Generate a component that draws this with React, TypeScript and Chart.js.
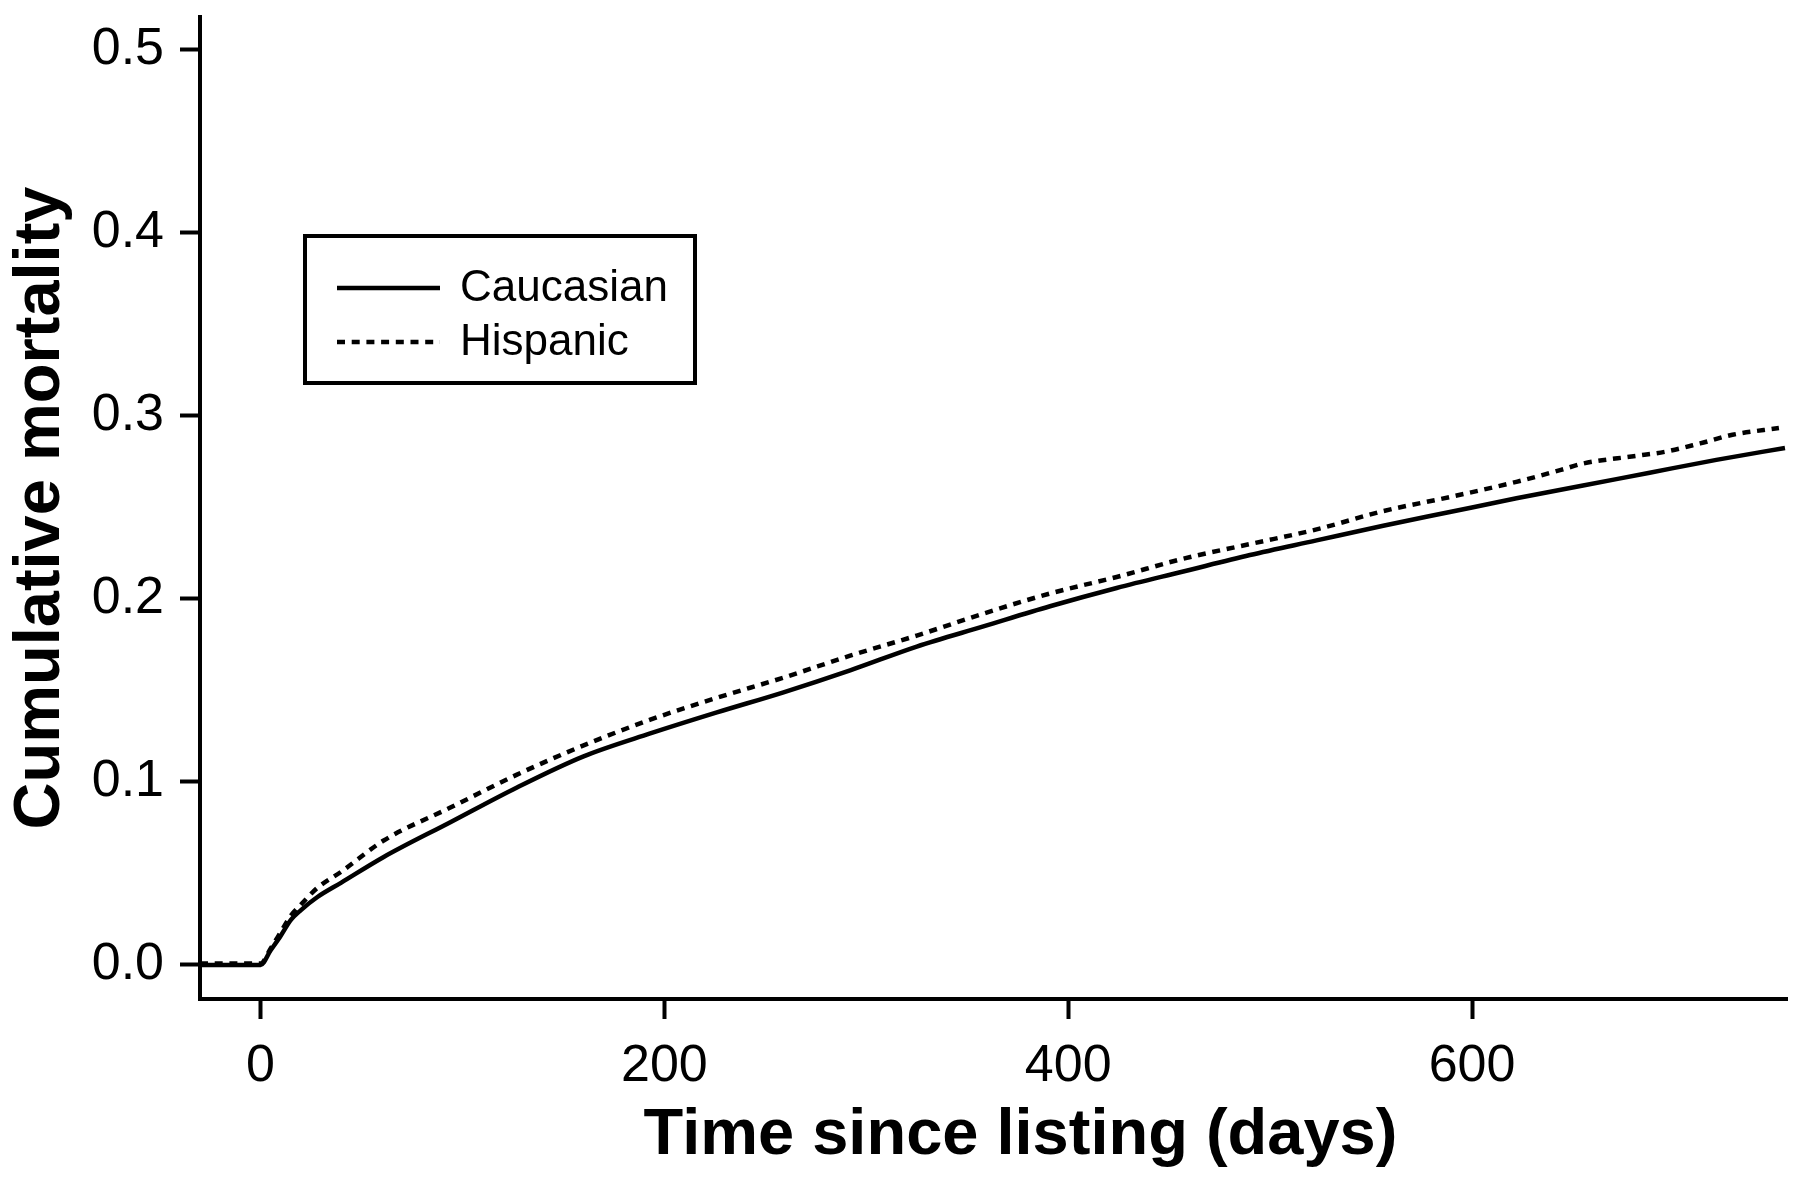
import React, { useEffect, useRef } from "react";
import { Chart, registerables } from "chart.js";

Chart.register(...registerables);

// ---- data ----
const caucasianDays = [-30, 0, 5, 10, 15, 20, 28, 40, 61, 94, 127, 160, 193, 226, 259, 292, 325, 358, 391, 424, 457, 490, 523, 556, 589, 622, 655, 688, 721, 755];
const caucasianMortality = [0, 0, 0.008, 0.016, 0.0246, 0.03, 0.037, 0.045, 0.059, 0.078, 0.097, 0.114, 0.1265, 0.138, 0.149, 0.161, 0.174, 0.185, 0.196, 0.206, 0.215, 0.224, 0.232, 0.24, 0.2475, 0.255, 0.262, 0.269, 0.276, 0.2825];

const hispanicDays = [-30, 0, 5, 10, 15, 20, 28, 40, 61, 94, 127, 160, 193, 226, 259, 292, 325, 358, 391, 424, 457, 490, 523, 556, 589, 622, 644, 655, 680, 696, 713, 729, 752];
const hispanicMortality = [0.0008, 0.0008, 0.009, 0.018, 0.027, 0.033, 0.042, 0.051, 0.068, 0.086, 0.104, 0.12, 0.134, 0.146, 0.157, 0.169, 0.18, 0.192, 0.203, 0.212, 0.222, 0.23, 0.238, 0.248, 0.2557, 0.264, 0.2705, 0.274, 0.278, 0.2805, 0.285, 0.2897, 0.2934];

const seriesLabels = ["Caucasian", "Hispanic"];
const xTickValues = [0, 200, 400, 600];
const yTickValues = [0, 0.1, 0.2, 0.3, 0.4, 0.5];
const xTitle = "Time since listing (days)";
const yTitle = "Cumulative mortality";

const X_MIN = -30;
const X_MAX = 756;
const Y_MIN = -0.0186;
const Y_MAX = 0.518;

const FONT = '"Liberation Sans", Arial, Helvetica, sans-serif';
const DOT_DASH = [8, 6.7];

const legendBoxPlugin = {
  id: "legendBox",
  afterDraw(chart: any) {
    const ctx = chart.ctx as CanvasRenderingContext2D;
    const { left, top } = chart.chartArea;
    const x0 = left + 105;
    const y0 = top + 219;
    const w = 390;
    const h = 147;
    ctx.save();
    ctx.strokeStyle = "#000";
    ctx.lineWidth = 4;
    ctx.setLineDash([]);
    ctx.strokeRect(x0, y0, w, h);
    const rows = [
      { label: seriesLabels[0], dash: [] as number[], y: y0 + 52 },
      { label: seriesLabels[1], dash: DOT_DASH, y: y0 + 106 },
    ];
    ctx.font = `44px ${FONT}`;
    ctx.fillStyle = "#000";
    ctx.textBaseline = "middle";
    ctx.textAlign = "left";
    for (const r of rows) {
      ctx.beginPath();
      ctx.lineWidth = 4.5;
      ctx.setLineDash(r.dash);
      ctx.moveTo(x0 + 32, r.y);
      ctx.lineTo(x0 + 135, r.y);
      ctx.stroke();
      ctx.setLineDash([]);
      ctx.fillText(r.label, x0 + 155, r.y + 1);
    }
    ctx.restore();
  },
};

const xTitlePlugin = {
  id: "xTitleText",
  afterDraw(chart: any) {
    const ctx = chart.ctx as CanvasRenderingContext2D;
    const { left, right } = chart.chartArea;
    ctx.save();
    ctx.font = `bold 65px ${FONT}`;
    ctx.fillStyle = "#000";
    ctx.textAlign = "center";
    ctx.textBaseline = "middle";
    ctx.fillText(xTitle, (left + right) / 2 + 27, chart.height - 51);
    ctx.restore();
  },
};

export default function App() {
  const ref = useRef<HTMLCanvasElement | null>(null);

  useEffect(() => {
    if (!ref.current) return;
    const chart = new Chart(ref.current, {
      type: "line",
      data: {
        datasets: [
          {
            label: seriesLabels[0],
            data: caucasianDays.map((d, i) => ({ x: d, y: caucasianMortality[i] })),
            borderColor: "#000",
            borderWidth: 4.5,
            pointRadius: 0,
            cubicInterpolationMode: "monotone",
            fill: false,
          },
          {
            label: seriesLabels[1],
            data: hispanicDays.map((d, i) => ({ x: d, y: hispanicMortality[i] })),
            borderColor: "#000",
            borderWidth: 4.5,
            borderDash: DOT_DASH,
            pointRadius: 0,
            cubicInterpolationMode: "monotone",
            fill: false,
          },
        ],
      },
      options: {
        animation: false,
        responsive: false,
        devicePixelRatio: 1,
        events: [],
        layout: { padding: { left: 0, top: 17, right: 13, bottom: 0 } },
        plugins: {
          legend: { display: false },
          tooltip: { enabled: false },
        },
        scales: {
          x: {
            type: "linear",
            min: X_MIN,
            max: X_MAX,
            afterBuildTicks: (scale: any) => {
              scale.ticks = xTickValues.map((v) => ({ value: v }));
            },
            afterFit: (scale: any) => {
              scale.height = 188;
              scale.paddingLeft = 0;
              scale.paddingRight = 0;
            },
            border: { display: true, width: 4, color: "#000" },
            grid: {
              display: true,
              drawOnChartArea: false,
              drawTicks: true,
              tickLength: 20,
              tickWidth: 4,
              tickColor: "#000",
            },
            ticks: {
              color: "#000",
              padding: 16,
              maxRotation: 0,
              autoSkip: false,
              font: { family: FONT, size: 52 },
              callback: (v: any) => String(v),
            },
            title: { display: false },
          },
          y: {
            type: "linear",
            min: Y_MIN,
            max: Y_MAX,
            afterBuildTicks: (scale: any) => {
              scale.ticks = yTickValues.map((v) => ({ value: v }));
            },
            afterFit: (scale: any) => {
              scale.width = 200;
              scale.paddingTop = 0;
              scale.paddingBottom = 0;
            },
            border: { display: true, width: 4, color: "#000" },
            grid: {
              display: true,
              drawOnChartArea: false,
              drawTicks: true,
              tickLength: 20,
              tickWidth: 4,
              tickColor: "#000",
            },
            ticks: {
              color: "#000",
              padding: 16,
              autoSkip: false,
              font: { family: FONT, size: 52 },
              callback: (v: any) => Number(v).toFixed(1),
            },
            title: {
              display: true,
              text: yTitle,
              color: "#000",
              font: { family: FONT, size: 65, weight: "bold", lineHeight: 1 },
              padding: { top: 9, bottom: 0 },
            },
          },
        },
      },
      plugins: [legendBoxPlugin, xTitlePlugin],
    } as any);
    return () => chart.destroy();
  }, []);

  return (
    <div style={{ position: "fixed", left: 0, top: 0, width: 1800, height: 1187, background: "#fff" }}>
      <canvas ref={ref} width={1800} height={1187} style={{ width: 1800, height: 1187, display: "block" }} />
    </div>
  );
}
